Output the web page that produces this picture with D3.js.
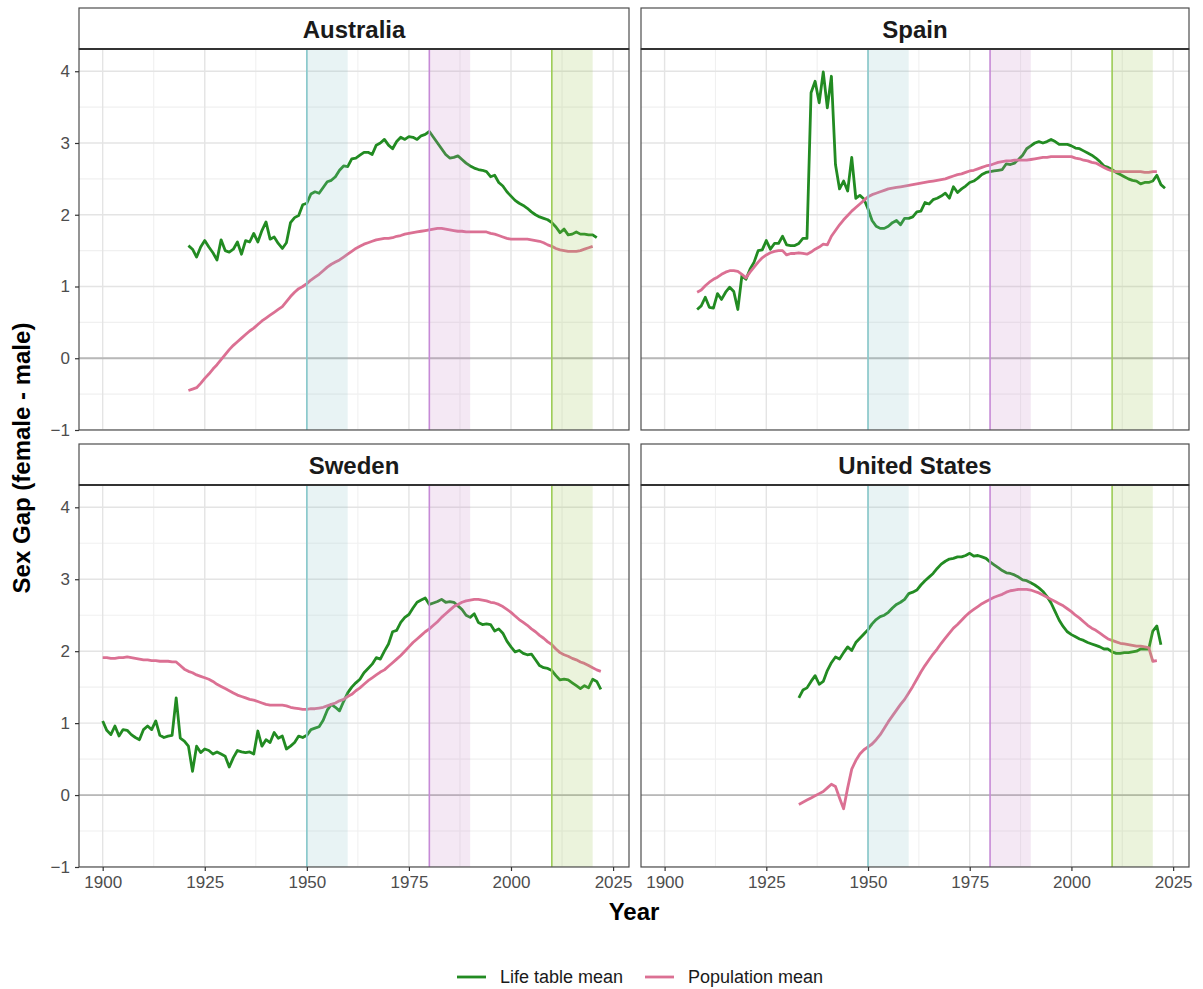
<!DOCTYPE html>
<html>
<head>
<meta charset="utf-8">
<script src="https://cdn.jsdelivr.net/npm/d3@7"></script>
<style>
body { margin: 0; background: #fff; }
text { font-family: "Liberation Sans", Arial, Helvetica, sans-serif; }
</style>
</head>
<body>
<script>
// panel titles, series names, ticks
var countries = ['Australia', 'Spain', 'Sweden', 'United States'];
var seriesNames = ['Life table mean', 'Population mean'];
var xTicks = [1900, 1925, 1950, 1975, 2000, 2025];
var xMinor = [1912.5, 1937.5, 1962.5, 1987.5, 2012.5];
var yTicks = [-1, 0, 1, 2, 3, 4];
var yMinor = [-0.5, 0.5, 1.5, 2.5, 3.5];
var periodStarts = [1950, 1980, 2010];
var periodEnds = [1960, 1990, 2020];

// first year of each series (same order as countries)
var lifeStart = [1921, 1908, 1900, 1933];
var popStart = [1921, 1908, 1900, 1933];

var ausLife = [1.57,1.52,1.41,1.55,1.64,1.55,1.47,1.37,1.65,1.50,1.48,1.52,1.62,1.45,1.64,1.62,1.74,1.62,1.78,1.90,
  1.66,1.69,1.60,1.53,1.61,1.89,1.96,1.99,2.14,2.16,2.29,2.32,2.30,2.38,2.46,2.48,2.53,2.62,2.68,2.67,
  2.78,2.79,2.83,2.87,2.87,2.84,2.97,3.00,3.05,2.97,2.92,3.02,3.08,3.05,3.09,3.08,3.05,3.10,3.12,3.16,
  3.08,3.00,2.92,2.84,2.79,2.80,2.82,2.77,2.72,2.68,2.65,2.63,2.62,2.60,2.53,2.55,2.45,2.40,2.32,2.26,
  2.20,2.16,2.13,2.09,2.04,2.00,1.97,1.95,1.93,1.89,1.83,1.75,1.80,1.72,1.73,1.76,1.73,1.73,1.72,1.72,1.68];
var ausPop = [-0.45,-0.43,-0.41,-0.35,-0.28,-0.22,-0.15,-0.09,-0.02,0.05,0.12,0.18,0.23,0.28,0.33,0.38,0.42,0.47,0.52,0.56,
  0.60,0.64,0.68,0.72,0.79,0.86,0.92,0.97,1.00,1.04,1.09,1.13,1.17,1.22,1.27,1.31,1.34,1.37,1.41,1.45,
  1.49,1.53,1.56,1.59,1.61,1.63,1.65,1.66,1.67,1.67,1.68,1.70,1.71,1.73,1.74,1.75,1.76,1.77,1.78,1.79,
  1.80,1.81,1.81,1.80,1.79,1.78,1.77,1.77,1.76,1.76,1.76,1.76,1.76,1.76,1.74,1.73,1.71,1.69,1.67,1.66,
  1.66,1.66,1.66,1.66,1.65,1.64,1.63,1.61,1.58,1.56,1.53,1.51,1.50,1.49,1.49,1.49,1.50,1.52,1.54,1.56];

var espLife = [0.68,0.73,0.85,0.71,0.70,0.90,0.82,0.92,0.99,0.93,0.68,1.15,1.10,1.24,1.34,1.50,1.51,1.64,1.52,1.60,
  1.60,1.70,1.58,1.57,1.57,1.60,1.67,1.67,3.70,3.86,3.56,3.99,3.49,3.93,2.70,2.36,2.47,2.33,2.80,2.23,
  2.27,2.22,2.08,1.92,1.84,1.81,1.81,1.84,1.89,1.92,1.86,1.95,1.95,1.97,2.04,2.05,2.17,2.15,2.21,2.23,
  2.26,2.30,2.23,2.39,2.31,2.36,2.40,2.45,2.47,2.51,2.56,2.59,2.60,2.61,2.62,2.63,2.71,2.70,2.72,2.77,
  2.83,2.92,2.96,3.00,3.02,3.00,3.02,3.05,3.02,2.98,2.98,2.98,2.96,2.93,2.92,2.89,2.86,2.83,2.79,2.74,
  2.68,2.66,2.63,2.59,2.56,2.53,2.50,2.48,2.47,2.43,2.45,2.45,2.47,2.55,2.42,2.37];
var espPop = [0.92,0.95,1.01,1.06,1.10,1.13,1.17,1.20,1.22,1.22,1.21,1.17,1.12,1.20,1.27,1.34,1.40,1.44,1.47,1.49,
  1.50,1.50,1.44,1.46,1.46,1.47,1.46,1.45,1.48,1.52,1.55,1.59,1.58,1.70,1.78,1.86,1.93,1.99,2.05,2.10,
  2.15,2.20,2.25,2.28,2.30,2.32,2.34,2.36,2.37,2.38,2.39,2.40,2.41,2.42,2.43,2.44,2.45,2.46,2.47,2.48,
  2.49,2.50,2.52,2.54,2.56,2.57,2.59,2.61,2.62,2.64,2.66,2.68,2.69,2.71,2.73,2.74,2.75,2.75,2.76,2.76,
  2.76,2.76,2.77,2.78,2.79,2.80,2.80,2.81,2.81,2.81,2.81,2.81,2.81,2.79,2.78,2.76,2.75,2.73,2.72,2.69,
  2.66,2.63,2.61,2.60,2.60,2.60,2.60,2.60,2.60,2.60,2.59,2.59,2.60,2.60];

var sweLife = [1.03,0.90,0.84,0.96,0.82,0.91,0.90,0.84,0.80,0.77,0.91,0.96,0.91,1.03,0.83,0.80,0.82,0.83,1.35,0.79,
  0.75,0.68,0.33,0.68,0.59,0.64,0.62,0.57,0.60,0.57,0.54,0.39,0.52,0.62,0.60,0.59,0.60,0.57,0.89,0.68,
  0.77,0.73,0.87,0.79,0.82,0.64,0.68,0.73,0.82,0.80,0.83,0.91,0.93,0.95,1.04,1.18,1.26,1.22,1.17,1.30,
  1.42,1.50,1.56,1.61,1.70,1.76,1.82,1.91,1.89,2.00,2.10,2.27,2.29,2.40,2.47,2.51,2.60,2.68,2.71,2.74,
  2.65,2.67,2.69,2.72,2.68,2.69,2.68,2.63,2.58,2.50,2.47,2.52,2.40,2.37,2.38,2.37,2.28,2.31,2.25,2.14,
  2.06,1.99,2.01,1.97,1.95,1.96,1.88,1.80,1.77,1.76,1.73,1.66,1.60,1.61,1.60,1.56,1.52,1.48,1.52,1.49,
  1.61,1.58,1.47];
var swePop = [1.91,1.91,1.90,1.90,1.91,1.91,1.92,1.91,1.90,1.89,1.88,1.88,1.87,1.87,1.86,1.86,1.86,1.85,1.85,1.80,
  1.75,1.72,1.70,1.67,1.65,1.63,1.61,1.58,1.54,1.51,1.48,1.45,1.42,1.39,1.37,1.35,1.33,1.32,1.30,1.28,
  1.26,1.25,1.25,1.25,1.25,1.24,1.22,1.21,1.20,1.19,1.19,1.20,1.20,1.21,1.22,1.24,1.26,1.28,1.31,1.33,
  1.37,1.40,1.45,1.49,1.54,1.59,1.63,1.67,1.71,1.74,1.79,1.84,1.89,1.94,2.00,2.06,2.12,2.17,2.22,2.27,
  2.31,2.36,2.41,2.47,2.52,2.57,2.62,2.65,2.68,2.70,2.71,2.72,2.72,2.71,2.70,2.68,2.67,2.65,2.62,2.58,
  2.54,2.49,2.44,2.40,2.36,2.31,2.27,2.22,2.18,2.13,2.09,2.03,1.98,1.95,1.93,1.90,1.88,1.85,1.83,1.80,
  1.77,1.74,1.72];

var usaLife = [1.35,1.46,1.49,1.58,1.66,1.54,1.58,1.73,1.84,1.92,1.89,1.98,2.06,2.01,2.12,2.18,2.24,2.30,2.38,2.44,
  2.48,2.50,2.54,2.60,2.65,2.68,2.72,2.80,2.82,2.85,2.92,2.98,3.03,3.08,3.15,3.21,3.25,3.28,3.29,3.31,
  3.31,3.33,3.36,3.32,3.33,3.31,3.29,3.24,3.20,3.16,3.12,3.09,3.08,3.06,3.03,2.99,2.98,2.95,2.92,2.88,
  2.83,2.76,2.67,2.55,2.43,2.34,2.27,2.23,2.20,2.17,2.15,2.12,2.10,2.08,2.06,2.03,2.03,1.99,1.97,1.97,
  1.98,1.98,1.99,2.00,2.03,2.03,2.03,2.28,2.35,2.09];
var usaPop = [-0.13,-0.10,-0.07,-0.04,-0.01,0.02,0.05,0.10,0.15,0.12,-0.04,-0.19,0.10,0.36,0.48,0.57,0.63,0.67,0.71,0.77,
  0.84,0.93,1.02,1.10,1.18,1.26,1.33,1.42,1.51,1.61,1.71,1.80,1.88,1.96,2.03,2.11,2.18,2.25,2.32,2.37,
  2.43,2.49,2.54,2.58,2.62,2.66,2.69,2.72,2.75,2.77,2.79,2.82,2.84,2.85,2.86,2.86,2.86,2.85,2.83,2.81,
  2.78,2.75,2.72,2.69,2.66,2.63,2.59,2.55,2.50,2.46,2.41,2.36,2.32,2.29,2.25,2.21,2.17,2.15,2.13,2.11,
  2.10,2.09,2.08,2.07,2.07,2.06,2.05,1.86,1.87];

var lifeValues = [ausLife, espLife, sweLife, usaLife];
var popValues = [ausPop, espPop, swePop, usaPop];

// styles
var lineColors = ['#228b22', '#db7093'];
var periodFill = ['#8cc3c8', '#c88cc8', '#9bc350'];
var periodLine = ['#88c9cc', '#c68ad6', '#9ccc55'];
var fontStack = '"Liberation Sans", Arial, Helvetica, sans-serif';

var W = 1203, H = 989;
var svg = d3.select('body').append('svg').attr('width', W).attr('height', H);

var colX = [[79, 629], [641, 1189]];
var rowY = [[49, 430], [485, 867]];
var stripH = 41;

var toPoints = function(start, vals) {
    return vals.map(function(v, i) { return {year: start + i, value: v}; });
};

countries.forEach(function(name, k) {
    var col = k % 2, row = Math.floor(k / 2);
    var x0 = colX[col][0], x1 = colX[col][1], y0 = rowY[row][0], y1 = rowY[row][1];
    var x = d3.scaleLinear().domain([1894.2, 2028.9]).range([x0, x1]);
    var y = d3.scaleLinear().domain([-1, 4.31]).range([y1, y0]);

    var g = svg.append('g');
    var clipId = 'clip' + k;
    g.append('clipPath').attr('id', clipId).append('rect')
        .attr('x', x0).attr('y', y0).attr('width', x1 - x0).attr('height', y1 - y0);
    var pg = g.append('g').attr('clip-path', 'url(#' + clipId + ')');

    // grid
    pg.selectAll('.xminor').data(xMinor).enter().append('line')
        .attr('x1', x).attr('x2', x).attr('y1', y0).attr('y2', y1)
        .attr('stroke', '#f0f0f0').attr('stroke-width', 1.1);
    pg.selectAll('.yminor').data(yMinor).enter().append('line')
        .attr('y1', y).attr('y2', y).attr('x1', x0).attr('x2', x1)
        .attr('stroke', '#f0f0f0').attr('stroke-width', 1.1);
    pg.selectAll('.xmajor').data(xTicks).enter().append('line')
        .attr('x1', x).attr('x2', x).attr('y1', y0).attr('y2', y1)
        .attr('stroke', '#e4e4e4').attr('stroke-width', 1.4);
    pg.selectAll('.ymajor').data(yTicks).enter().append('line')
        .attr('y1', y).attr('y2', y).attr('x1', x0).attr('x2', x1)
        .attr('stroke', '#e4e4e4').attr('stroke-width', 1.4);

    // zero line
    pg.append('line').attr('x1', x0).attr('x2', x1).attr('y1', y(0)).attr('y2', y(0))
        .attr('stroke', '#b8b8b8').attr('stroke-width', 1.8);

    var line = d3.line().x(function(d) { return x(d.year); }).y(function(d) { return y(d.value); });
    pg.append('path').datum(toPoints(lifeStart[k], lifeValues[k])).attr('d', line)
        .attr('fill', 'none').attr('stroke', lineColors[0]).attr('stroke-width', 2.8)
        .attr('stroke-linejoin', 'round');
    pg.append('path').datum(toPoints(popStart[k], popValues[k])).attr('d', line)
        .attr('fill', 'none').attr('stroke', lineColors[1]).attr('stroke-width', 2.8)
        .attr('stroke-linejoin', 'round');

    // shaded periods on top of the lines
    pg.selectAll('.period').data(periodStarts).enter().append('rect')
        .attr('x', function(d) { return x(d); })
        .attr('width', function(d, i) { return x(periodEnds[i]) - x(d); })
        .attr('y', y0).attr('height', y1 - y0)
        .attr('fill', function(d, i) { return periodFill[i]; })
        .attr('fill-opacity', 0.2);
    pg.selectAll('.vline').data(periodStarts).enter().append('line')
        .attr('x1', x).attr('x2', x).attr('y1', y0).attr('y2', y1)
        .attr('stroke', function(d, i) { return periodLine[i]; }).attr('stroke-width', 1.6);

    // panel border
    g.append('rect').attr('x', x0).attr('y', y0).attr('width', x1 - x0).attr('height', y1 - y0)
        .attr('fill', 'none').attr('stroke', '#4d4d4d').attr('stroke-width', 1.2);

    // strip
    g.append('rect').attr('x', x0).attr('y', y0 - stripH).attr('width', x1 - x0).attr('height', stripH)
        .attr('fill', '#fff').attr('stroke', '#4d4d4d').attr('stroke-width', 1.2);
    g.append('line').attr('x1', x0).attr('x2', x1).attr('y1', y0).attr('y2', y0)
        .attr('stroke', '#333').attr('stroke-width', 2);
    g.append('text').attr('x', (x0 + x1) / 2).attr('y', y0 - stripH / 2 + 1)
        .attr('text-anchor', 'middle').attr('dominant-baseline', 'central')
        .style('font-size', '24px').style('font-weight', 'bold').attr('fill', '#1a1a1a')
        .text(name);

    // axes
    if (col === 0) {
        var ya = g.append('g').attr('transform', 'translate(' + x0 + ',0)')
            .call(d3.axisLeft(y).tickValues(yTicks).tickFormat(d3.format('d')).tickSize(4).tickPadding(5));
        ya.select('.domain').remove();
        ya.selectAll('line').attr('stroke', '#333').attr('stroke-width', 1.2);
        ya.selectAll('text').attr('fill', '#4d4d4d').style('font-size', '17px')
            .style('font-family', fontStack);
    }
    if (row === 1) {
        var xa = g.append('g').attr('transform', 'translate(0,' + y1 + ')')
            .call(d3.axisBottom(x).tickValues(xTicks).tickFormat(d3.format('d')).tickSize(4).tickPadding(5));
        xa.select('.domain').remove();
        xa.selectAll('line').attr('stroke', '#333').attr('stroke-width', 1.2);
        xa.selectAll('text').attr('fill', '#4d4d4d').style('font-size', '17px')
            .style('font-family', fontStack);
    }
});

// axis titles
svg.append('text').attr('transform', 'translate(21,458) rotate(-90)')
    .attr('text-anchor', 'middle').attr('dominant-baseline', 'central')
    .style('font-size', '24px').style('font-weight', 'bold').attr('fill', '#000')
    .text('Sex Gap (female - male)');
svg.append('text').attr('x', 634).attr('y', 911)
    .attr('text-anchor', 'middle').attr('dominant-baseline', 'central')
    .style('font-size', '24px').style('font-weight', 'bold').attr('fill', '#000')
    .text('Year');

// legend
var legendX = [457, 645];
var lg = svg.append('g');
seriesNames.forEach(function(s, i) {
    lg.append('line').attr('x1', legendX[i]).attr('x2', legendX[i] + 29)
        .attr('y1', 977).attr('y2', 977)
        .attr('stroke', lineColors[i]).attr('stroke-width', 2.8);
    lg.append('text').attr('x', legendX[i] + 43).attr('y', 977)
        .attr('dominant-baseline', 'central')
        .style('font-size', '18px').attr('fill', '#1a1a1a')
        .text(s);
});
</script>
</body>
</html>
